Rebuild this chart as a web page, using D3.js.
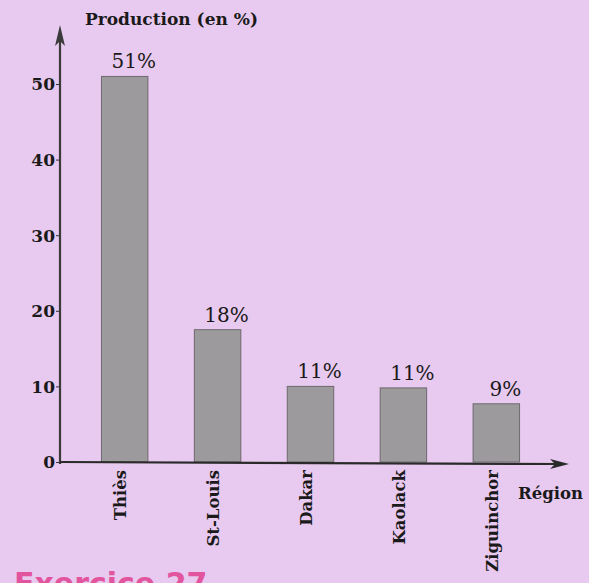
<!DOCTYPE html>
<html><head><meta charset="utf-8">
<script src="https://cdn.jsdelivr.net/npm/d3@7"></script>
<style>
html,body{margin:0;padding:0;background:#e8c9ef;overflow:hidden;}
svg{display:block;}
</style></head>
<body>
<svg id="chart" width="589" height="583"></svg>
<script>
const categories = ["Thiès", "St-Louis", "Dakar", "Kaolack", "Ziguinchor"];
const values = [51, 17.5, 10, 9.8, 7.7];
const valueLabels = ["51%", "18%", "11%", "11%", "9%"];
const yTicks = [0, 10, 20, 30, 40, 50];
const yTitle = "Production (en %)";
const xTitle = "Région";
const footer = "Exercice 27";

const svg = d3.select("#chart");
const W = 589, H = 583;
svg.append("rect").attr("width", W).attr("height", H).attr("fill", "#e8c9ef");

const serif = "'DejaVu Serif', 'Liberation Serif', serif";
const x0 = 60, y0 = 462;
const x = d3.scaleBand().domain(categories).range([55, 566]).paddingInner(0.5).paddingOuter(0.5);
const y = d3.scaleLinear().domain([0, 50]).range([y0, 84]);

// bars
svg.selectAll("rect.bar").data(values).enter().append("rect")
  .attr("class", "bar")
  .attr("x", (d, i) => x(categories[i]))
  .attr("y", d => y(d))
  .attr("width", x.bandwidth())
  .attr("height", d => y0 - y(d))
  .attr("fill", "#9c9a9c")
  .attr("stroke", "#6e6a6e")
  .attr("stroke-width", 1);

// value labels
svg.selectAll("text.val").data(values).enter().append("text")
  .attr("x", (d, i) => x(categories[i]) + x.bandwidth() / 2 + 9)
  .attr("y", d => y(d) - 8)
  .attr("text-anchor", "middle")
  .attr("font-family", serif)
  .attr("font-size", 20)
  .attr("fill", "#1a1a1a")
  .text((d, i) => valueLabels[i]);

// y axis
const yAxis = d3.axisLeft(y).tickValues(yTicks).tickSize(4).tickFormat(d3.format("d"));
const gy = svg.append("g").attr("transform", `translate(${x0},0)`).call(yAxis);
gy.select(".domain").remove();
gy.selectAll(".tick line").attr("stroke", "#333").attr("stroke-width", 1);
gy.selectAll(".tick text")
  .attr("font-family", serif).attr("font-weight", "bold").attr("font-size", 17)
  .attr("fill", "#1a1a1a").attr("x", -5).attr("dy", "0.35em");

// x axis
const xAxis = d3.axisBottom(x).tickSize(0);
const gx = svg.append("g").attr("transform", `translate(0,${y0})`).call(xAxis);
gx.select(".domain").remove();
gx.selectAll(".tick text")
  .attr("transform", "rotate(-90)")
  .attr("text-anchor", "end")
  .attr("x", -8).attr("y", -4).attr("dy", "0.35em")
  .attr("font-family", serif).attr("font-weight", "bold").attr("font-size", 16.5)
  .attr("fill", "#1a1a1a");

// axis lines with arrows
svg.append("line").attr("x1", x0).attr("y1", y0 + 2).attr("x2", x0).attr("y2", 34)
  .attr("stroke", "#3a3a3a").attr("stroke-width", 2.2);
svg.append("path").attr("d", `M${x0},25 L${x0 - 5},46 L${x0},41 L${x0 + 5},46 Z`).attr("fill", "#3a3a3a");
svg.append("line").attr("x1", x0).attr("y1", y0).attr("x2", 560).attr("y2", y0 + 2)
  .attr("stroke", "#2a2a2a").attr("stroke-width", 2.2);
svg.append("path").attr("d", `M569,${y0 + 2} L550,${y0 - 3} L555,${y0 + 2} L550,${y0 + 7} Z`).attr("fill", "#2a2a2a");

// titles
svg.append("text").attr("x", 85).attr("y", 25)
  .attr("font-family", serif).attr("font-weight", "bold").attr("font-size", 17)
  .attr("fill", "#1a1a1a").text(yTitle);
svg.append("text").attr("x", 518).attr("y", 499)
  .attr("font-family", serif).attr("font-weight", "bold").attr("font-size", 16.5)
  .attr("fill", "#1a1a1a").text(xTitle);

// footer heading (cut off at the page edge, as in the scanned page)
svg.append("text").attr("x", 14).attr("y", 594)
  .attr("font-family", "'DejaVu Sans', sans-serif").attr("font-weight", "bold").attr("font-size", 30)
  .attr("fill", "#e2559e").text(footer);
</script>
</body></html>
